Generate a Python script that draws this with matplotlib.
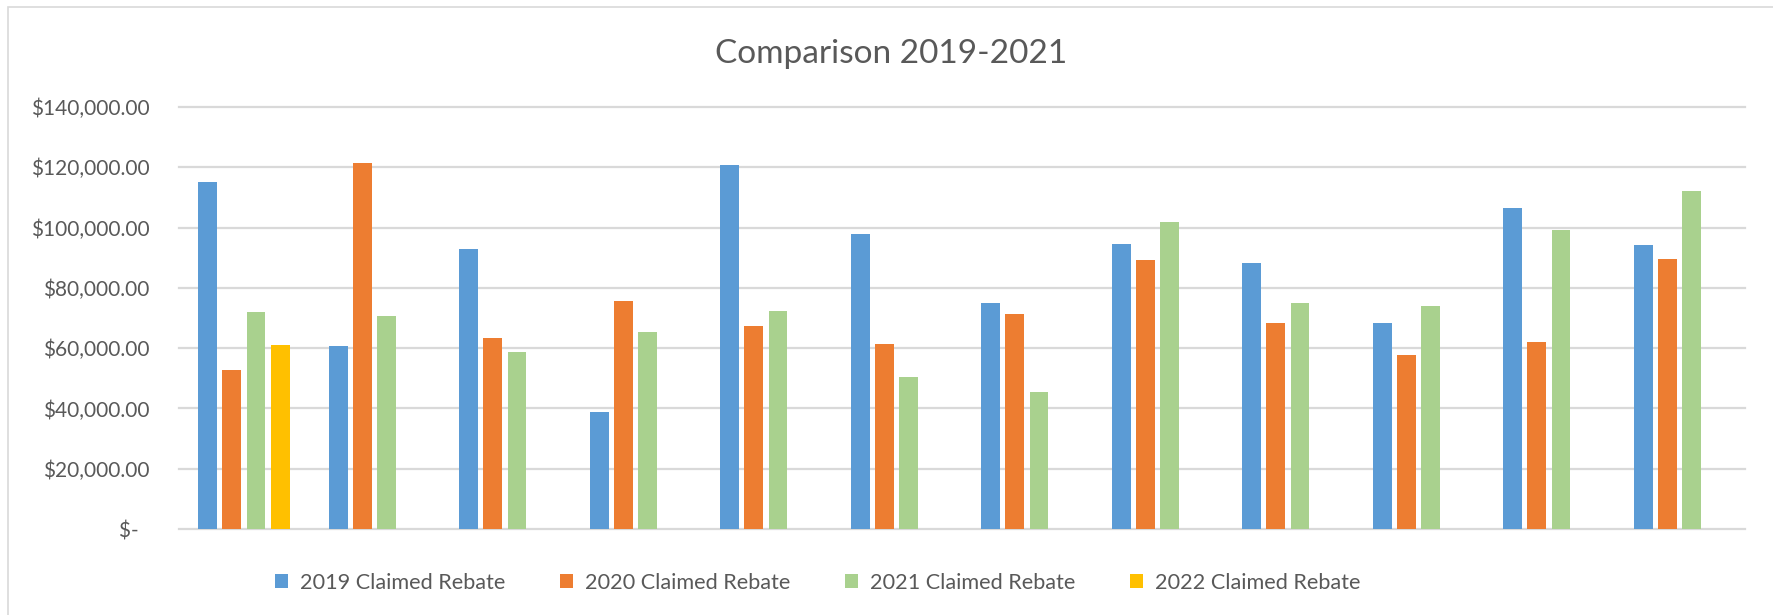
import numpy as np
import matplotlib
matplotlib.use("Agg")
import matplotlib.pyplot as plt
from matplotlib.patches import Rectangle, Patch
from matplotlib.ticker import FuncFormatter

plt.rcParams['font.family'] = ['Lato', 'DejaVu Sans']

# ---- data ----
categories = [''] * 12
series_names = ['2019 Claimed Rebate', '2020 Claimed Rebate',
                '2021 Claimed Rebate', '2022 Claimed Rebate']
rebate_2019 = [115100, 60800, 93000, 38700, 120700, 98000, 75100, 94700, 88300, 68200, 106600, 94100]
rebate_2020 = [52900, 121300, 63500, 75700, 67200, 61300, 71200, 89100, 68200, 57600, 62000, 89700]
rebate_2021 = [72000, 70800, 58700, 65300, 72200, 50300, 45600, 101700, 74900, 74100, 99200, 112200]
rebate_2022 = [60900] + [np.nan] * 11
y_ticks = [0, 20000, 40000, 60000, 80000, 100000, 120000, 140000]
title = 'Comparison 2019-2021'

colors = ['#5B9BD5', '#ED7D31', '#A9D18E', '#FFC000']
text_color = '#595959'
grid_color = '#D9D9D9'

W, H = 1773, 615
fig = plt.figure(figsize=(W / 100, H / 100), dpi=100)
fig.patch.set_facecolor('white')

# chart border (left and top visible)
fig.patches.append(Rectangle((8 / W, -0.1), 1.2, 1.1 - 7 / H, transform=fig.transFigure,
                             fill=False, edgecolor=grid_color, linewidth=1.2, zorder=0))

ax = fig.add_axes([178.7 / W, (H - 529) / H, 1566 / W, 422 / H])
x = np.arange(len(categories))
slot = 0.1847
bw = 0.145
all_series = [rebate_2019, rebate_2020, rebate_2021, rebate_2022]
for i, (vals, c) in enumerate(zip(all_series, colors)):
    ax.bar(x + (i - 1.5) * slot, vals, width=bw, color=c, zorder=3, linewidth=0)

ax.set_xlim(-0.5, len(categories) - 0.5)
ax.set_ylim(0, 140000)
ax.set_yticks(y_ticks)

def fmt(v, pos):
    if v == 0:
        return '$-  '
    return '${:,.2f}'.format(v)

ax.yaxis.set_major_formatter(FuncFormatter(fmt))
ax.set_xticks(x)
ax.set_xticklabels(categories)
ax.tick_params(axis='both', length=0)
ax.tick_params(axis='y', pad=21, labelsize=15, labelcolor=text_color)
for s in ax.spines.values():
    s.set_visible(False)
ax.yaxis.grid(True, color=grid_color, linewidth=1.6, zorder=0)
for gl in ax.get_ygridlines():
    gl.set_clip_on(False)
ax.set_axisbelow(True)

fig.text(891 / W, 1 - 63 / H, title, ha='center', va='baseline',
         fontsize=24, color=text_color)

handles = [Patch(facecolor=c, edgecolor='none') for c in colors]
leg = fig.legend(handles, series_names, loc='center', ncol=4,
                 bbox_to_anchor=(817.6 / W, 1 - 583 / H), frameon=False,
                 fontsize=15.6, handlelength=0.62, handleheight=0.62,
                 handletextpad=0.55, columnspacing=2.5, labelcolor=text_color)

fig.savefig('out.png', dpi=100, facecolor='white')
